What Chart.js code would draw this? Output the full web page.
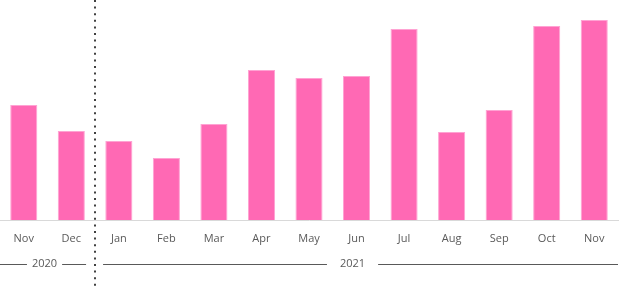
<!DOCTYPE html>
<html>
<head>
<meta charset="utf-8">
<script src="https://cdn.jsdelivr.net/npm/chart.js@4/dist/chart.umd.min.js"></script>
<style>
  html, body { margin: 0; padding: 0; background: #fff; }
  #wrap { width: 623px; height: 288px; position: relative; }
</style>
</head>
<body>
<div id="wrap"><canvas id="barCanvas"></canvas></div>
<script>
// month labels and the year each one belongs to
var months = ["Nov","Dec","Jan","Feb","Mar","Apr","May","Jun","Jul","Aug","Sep","Oct","Nov"];
var years  = ["2020","2020","2021","2021","2021","2021","2021","2021","2021","2021","2021","2021","2021"];
// bar values (no axis shown, read as relative heights)
var values = [115, 89, 79, 62, 96, 150, 142, 144, 191, 88, 110, 194, 200];

var textColor = "#595959";
var fontFamily = "'Open Sans', 'Liberation Sans', sans-serif";

// draws the year row under the month labels and the dotted divider between years
var yearPlugin = {
  id: "yearRow",
  afterDraw: function (chart) {
    var ctx = chart.ctx;
    var x = chart.scales.x;
    var half = (x.getPixelForValue(1) - x.getPixelForValue(0)) / 2;
    var yRow = 264;

    // group consecutive months by year
    var groups = [];
    for (var i = 0; i < years.length; i++) {
      if (!groups.length || groups[groups.length - 1].year !== years[i]) {
        groups.push({ year: years[i], from: i, to: i });
      } else {
        groups[groups.length - 1].to = i;
      }
    }

    ctx.save();
    ctx.font = "11px " + fontFamily;
    ctx.fillStyle = textColor;
    ctx.textAlign = "center";
    ctx.textBaseline = "middle";
    for (var g = 0; g < groups.length; g++) {
      var gr = groups[g];
      var last = g === groups.length - 1;
      var gStart = g === 0 ? 0 : x.getPixelForValue(gr.from) - half;
      var gEnd = last ? x.right : x.getPixelForValue(gr.to) + half;
      var left = g === 0 ? 0 : gStart + 8;
      var right = last ? x.right : gEnd - 9;
      var mid = (gStart + gEnd) / 2 - (g === 0 ? 3 : 4);
      var gap = g === 0 ? 5 : 13;
      var tw = ctx.measureText(gr.year).width;
      ctx.fillText(gr.year, mid, yRow);
      ctx.strokeStyle = textColor;
      ctx.lineWidth = 1;
      ctx.beginPath();
      ctx.moveTo(left, yRow + 0.5);
      ctx.lineTo(mid - tw / 2 - gap, yRow + 0.5);
      ctx.moveTo(mid + tw / 2 + gap, yRow + 0.5);
      ctx.lineTo(right, yRow + 0.5);
      ctx.stroke();

      // dotted divider before each new year
      if (g > 0) {
        var dx = Math.round(gStart);
        ctx.save();
        ctx.strokeStyle = "#404040";
        ctx.lineWidth = 2;
        ctx.setLineDash([2, 4.6]);
        ctx.beginPath();
        ctx.moveTo(dx, 0);
        ctx.lineTo(dx, chart.height);
        ctx.stroke();
        ctx.restore();
      }
    }
    ctx.restore();
  }
};

var ctx = document.getElementById("barCanvas").getContext("2d");
var myChart = new Chart(ctx, {
  type: "bar",
  data: {
    labels: months,
    datasets: [{
      data: values,
      backgroundColor: "#ff69b4",
      borderColor: "#ffa3d3",
      borderWidth: 1,
      categoryPercentage: 1,
      barPercentage: 0.57
    }]
  },
  options: {
    responsive: true,
    maintainAspectRatio: false,
    animation: false,
    layout: { padding: { left: 0, right: 5, top: 0, bottom: 0 } },
    plugins: {
      legend: { display: false },
      tooltip: { enabled: false }
    },
    scales: {
      x: {
        grid: { display: false },
        border: { display: true, color: "#d9d9d9", width: 1 },
        ticks: {
          color: textColor,
          font: { family: fontFamily, size: 11 },
          padding: 4,
          maxRotation: 0,
          autoSkip: false
        },
        afterFit: function (scale) { scale.height = 68; }
      },
      y: {
        display: false,
        min: 0,
        max: 220
      }
    }
  },
  plugins: [yearPlugin]
});
</script>
</body>
</html>
